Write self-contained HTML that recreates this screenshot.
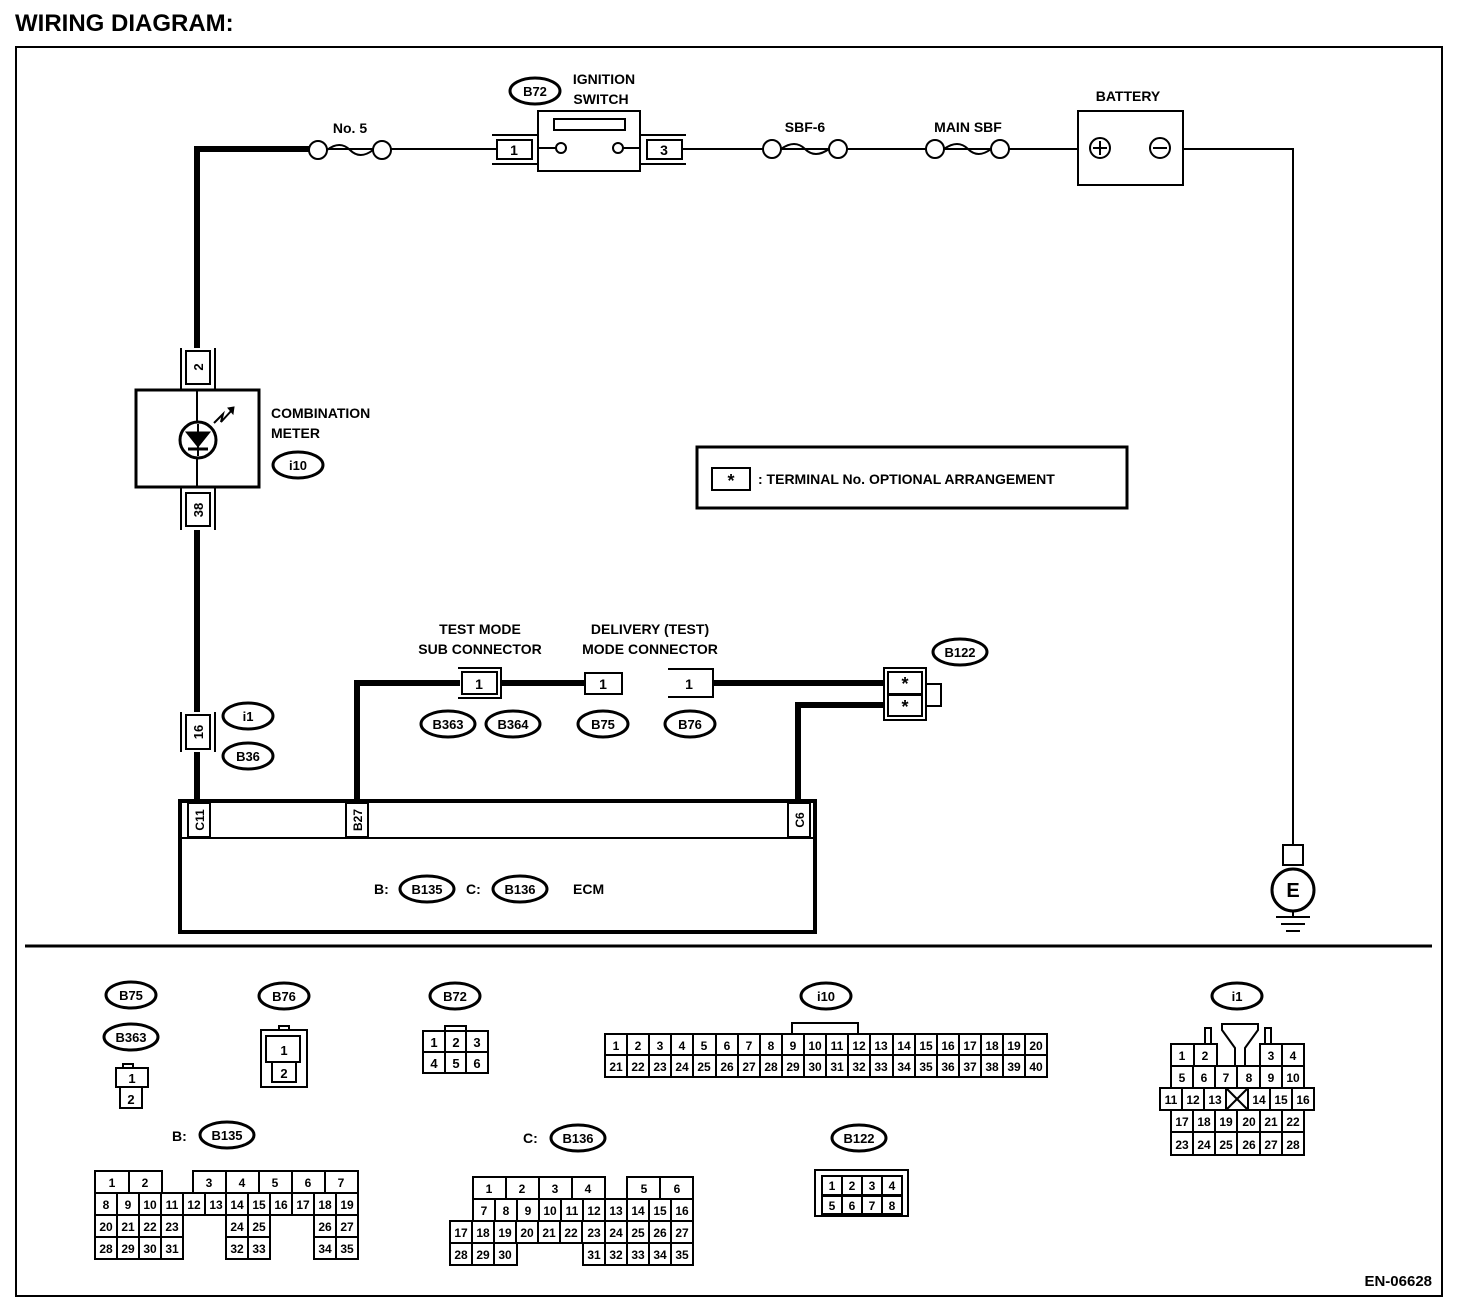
<!DOCTYPE html>
<html><head><meta charset="utf-8"><style>
body{margin:0;background:#fff}
svg{display:block}
text{font-family:"Liberation Sans",sans-serif;font-weight:bold;fill:#000}
</style></head><body>
<svg width="1472" height="1310" viewBox="0 0 1472 1310" xmlns="http://www.w3.org/2000/svg">
<text x="15" y="31" font-size="24">WIRING DIAGRAM:</text>
<rect x="16" y="47" width="1426" height="1249" fill="none" stroke="#000" stroke-width="2"/>
<line x1="25" y1="946" x2="1432" y2="946" stroke="#000" stroke-width="3"/>

<g fill="none" stroke="#000">
<polyline points="197,348 197,149 310,149" stroke-width="6"/>
<line x1="300" y1="149" x2="497" y2="149" stroke-width="2"/>
<line x1="680" y1="149" x2="1078" y2="149" stroke-width="2"/>
<polyline points="1183,149 1293,149 1293,845" stroke-width="2"/>
<circle cx="318" cy="150" r="9" fill="#fff" stroke-width="2"/><circle cx="382" cy="150" r="9" fill="#fff" stroke-width="2"/>
<path d="M327 150 Q340 140 350 150 T373 150" stroke-width="2"/>
<circle cx="772" cy="149" r="9" fill="#fff" stroke-width="2"/><circle cx="838" cy="149" r="9" fill="#fff" stroke-width="2"/>
<path d="M781 149 Q795 139 805 149 T829 149" stroke-width="2"/>
<circle cx="935" cy="149" r="9" fill="#fff" stroke-width="2"/><circle cx="1000" cy="149" r="9" fill="#fff" stroke-width="2"/>
<path d="M944 149 Q958 139 968 149 T991 149" stroke-width="2"/>
<rect x="538" y="111" width="102" height="60" stroke-width="2" fill="#fff"/>
<rect x="554" y="119" width="71" height="11" stroke-width="2"/>
<circle cx="561" cy="148" r="5" stroke-width="2" fill="#fff"/><circle cx="618" cy="148" r="5" stroke-width="2" fill="#fff"/>
<line x1="538" y1="148" x2="556" y2="148" stroke-width="2"/><line x1="623" y1="148" x2="640" y2="148" stroke-width="2"/>
<rect x="497" y="140" width="35" height="19" stroke-width="2" fill="#fff"/>
<line x1="492" y1="135" x2="538" y2="135" stroke-width="2"/><line x1="492" y1="164" x2="538" y2="164" stroke-width="2"/>
<rect x="647" y="140" width="35" height="19" stroke-width="2" fill="#fff"/>
<line x1="640" y1="135" x2="686" y2="135" stroke-width="2"/><line x1="640" y1="164" x2="686" y2="164" stroke-width="2"/>
<rect x="1078" y="111" width="105" height="74" stroke-width="2" fill="#fff"/>
<circle cx="1100" cy="148" r="10" stroke-width="2"/><line x1="1093" y1="148" x2="1107" y2="148" stroke-width="2"/><line x1="1100" y1="141" x2="1100" y2="155" stroke-width="2"/>
<circle cx="1160" cy="148" r="10" stroke-width="2"/><line x1="1153" y1="148" x2="1167" y2="148" stroke-width="2"/>
<rect x="1283" y="845" width="20" height="20" stroke-width="2" fill="#fff"/>
<circle cx="1293" cy="890" r="21" stroke-width="3" fill="#fff"/>
<line x1="1293" y1="911" x2="1293" y2="917" stroke-width="2"/>
<line x1="1276" y1="917" x2="1310" y2="917" stroke-width="2"/><line x1="1281" y1="924" x2="1305" y2="924" stroke-width="2"/><line x1="1286" y1="931" x2="1300" y2="931" stroke-width="2"/>

<line x1="197" y1="530" x2="197" y2="712" stroke-width="6"/>
<line x1="197" y1="752" x2="197" y2="802" stroke-width="6"/>
<rect x="136" y="390" width="123" height="97" stroke-width="3" fill="#fff"/>
<line x1="197" y1="390" x2="197" y2="487" stroke-width="2"/>
<circle cx="198" cy="440" r="18" stroke-width="3" fill="#fff"/>
<path d="M186 432 L210 432 L198 447 Z" fill="#000" stroke-width="1"/>
<line x1="188" y1="449" x2="208" y2="449" stroke-width="3"/>
<line x1="198" y1="424" x2="198" y2="456" stroke-width="2"/>
<path d="M214 423 L223 414 L221 422 L232 410" stroke-width="2"/><path d="M228 408 L234 407 L233 414 Z" fill="#000" stroke-width="1"/>
<g stroke-width="2">
<rect x="186" y="351" width="24" height="33" fill="#fff"/><line x1="181" y1="348" x2="181" y2="390"/><line x1="215" y1="348" x2="215" y2="390"/>
<rect x="186" y="493" width="24" height="33" fill="#fff"/><line x1="181" y1="487" x2="181" y2="530"/><line x1="215" y1="487" x2="215" y2="530"/>
<rect x="186" y="715" width="24" height="34" fill="#fff"/><line x1="181" y1="712" x2="181" y2="752"/><line x1="215" y1="712" x2="215" y2="752"/>
</g>
<rect x="180" y="801" width="635" height="131" stroke-width="4" fill="#fff"/>
<line x1="180" y1="838" x2="815" y2="838" stroke-width="2"/>
<rect x="188" y="803" width="22" height="34" stroke-width="2"/>
<rect x="346" y="803" width="22" height="34" stroke-width="2"/>
<rect x="788" y="803" width="22" height="34" stroke-width="2"/>
<polyline points="357,802 357,683 460,683" stroke-width="6"/>
<line x1="500" y1="683" x2="585" y2="683" stroke-width="6"/>
<line x1="713" y1="683" x2="887" y2="683" stroke-width="6"/>
<polyline points="798,802 798,705 887,705" stroke-width="6"/>
<rect x="462" y="672" width="35" height="22" stroke-width="2" fill="#fff"/>
<polyline points="458,668 501,668 501,698 458,698" stroke-width="2"/>
<rect x="585" y="673" width="37" height="21" stroke-width="2" fill="#fff"/>
<polyline points="668,669 713,669 713,697 668,697" stroke-width="2"/>
<rect x="884" y="668" width="42" height="52" stroke-width="2" fill="#fff"/>
<rect x="888" y="672" width="34" height="22" stroke-width="2"/>
<rect x="888" y="695" width="34" height="21" stroke-width="2"/>
<rect x="926" y="684" width="15" height="22" stroke-width="2"/>
<rect x="697" y="447" width="430" height="61" stroke-width="3"/>
<rect x="712" y="468" width="38" height="22" stroke-width="2"/>

<g stroke-width="3" fill="#fff">
<ellipse cx="535" cy="91" rx="25" ry="13"/>
<ellipse cx="298" cy="465" rx="25" ry="13"/>
<ellipse cx="248" cy="716" rx="25" ry="13"/>
<ellipse cx="248" cy="756" rx="25" ry="13"/>
<ellipse cx="448" cy="724" rx="27" ry="13"/>
<ellipse cx="513" cy="724" rx="27" ry="13"/>
<ellipse cx="603" cy="724" rx="25" ry="13"/>
<ellipse cx="690" cy="724" rx="25" ry="13"/>
<ellipse cx="960" cy="652" rx="27" ry="13"/>
<ellipse cx="427" cy="889" rx="27" ry="13"/>
<ellipse cx="520" cy="889" rx="27" ry="13"/>
<ellipse cx="131" cy="995" rx="25" ry="13"/>
<ellipse cx="131" cy="1037" rx="27" ry="13"/>
<ellipse cx="284" cy="996" rx="25" ry="13"/>
<ellipse cx="455" cy="996" rx="25" ry="13"/>
<ellipse cx="826" cy="996" rx="25" ry="13"/>
<ellipse cx="1237" cy="996" rx="25" ry="13"/>
<ellipse cx="227" cy="1135" rx="27" ry="13"/>
<ellipse cx="578" cy="1138" rx="27" ry="13"/>
<ellipse cx="859" cy="1138" rx="27" ry="13"/>
</g>

<g stroke-width="2" fill="#fff">
<rect x="123" y="1064" width="10" height="5"/>
<rect x="116" y="1068" width="32" height="19"/>
<rect x="120" y="1087" width="22" height="21"/>
<rect x="279" y="1026" width="10" height="5"/>
<rect x="261" y="1030" width="46" height="57"/>
<rect x="266" y="1036" width="34" height="26"/>
<rect x="272" y="1062" width="24" height="20"/>
<rect x="445" y="1026" width="21" height="6"/>
<rect x="423" y="1031" width="65" height="42"/>
<line x1="445" y1="1031" x2="445" y2="1073"/><line x1="466" y1="1031" x2="466" y2="1073"/><line x1="423" y1="1052" x2="488" y2="1052"/>
<rect x="792" y="1023" width="66" height="11"/>
<rect x="605" y="1034" width="442" height="43"/>
<line x1="605" y1="1055" x2="1047" y2="1055"/>
<rect x="1205" y="1028" width="6" height="17"/><rect x="1265" y="1028" width="6" height="17"/>
<path d="M1222 1024 L1258 1024 L1258 1030 L1245 1048 L1245 1066 L1235 1066 L1235 1048 L1222 1030 Z"/>
<rect x="1171" y="1044" width="46" height="22"/><line x1="1194" y1="1044" x2="1194" y2="1066"/>
<rect x="1260" y="1044" width="44" height="22"/><line x1="1282" y1="1044" x2="1282" y2="1066"/>
<rect x="1171" y="1066" width="133" height="22"/>
<rect x="1160" y="1088" width="154" height="22"/>
<rect x="1171" y="1110" width="133" height="22"/>
<rect x="1171" y="1132" width="133" height="23"/>
<line x1="1226" y1="1088" x2="1248" y2="1110"/><line x1="1248" y1="1088" x2="1226" y2="1110"/>
<rect x="815" y="1170" width="93" height="46"/>
<rect x="822" y="1176" width="80" height="19"/>
<rect x="822" y="1196" width="80" height="18"/>
</g>
<g stroke="#000" stroke-width="2">
<path d="M627 1034v43M649 1034v43M671 1034v43M693 1034v43M716 1034v43M738 1034v43M760 1034v43M782 1034v43M804 1034v43M826 1034v43M848 1034v43M870 1034v43M893 1034v43M915 1034v43M937 1034v43M959 1034v43M981 1034v43M1003 1034v43M1025 1034v43"/>
<path d="M1193 1066v22M1215 1066v22M1237 1066v22M1260 1066v22M1282 1066v22M1182 1088v22M1204 1088v22M1226 1088v22M1248 1088v22M1270 1088v22M1292 1088v22M1193 1110v45M1215 1110v45M1237 1110v45M1260 1110v45M1282 1110v45M1171 1132h133"/>
<path d="M842 1176v38M862 1176v38M882 1176v38"/>
</g>
<g stroke-width="2" fill="#fff">
<rect x="95" y="1171" width="67" height="22"/><line x1="129" y1="1171" x2="129" y2="1193"/>
<rect x="193" y="1171" width="165" height="22"/>
<rect x="95" y="1193" width="263" height="22"/>
<rect x="95" y="1215" width="88" height="44"/>
<rect x="226" y="1215" width="44" height="44"/>
<rect x="314" y="1215" width="44" height="44"/>
</g>
<path stroke="#000" stroke-width="2" d="M226 1171v22M259 1171v22M292 1171v22M325 1171v22M117 1193v22M139 1193v22M161 1193v22M183 1193v22M205 1193v22M226 1193v22M248 1193v22M270 1193v22M292 1193v22M314 1193v22M336 1193v22M117 1215v44M139 1215v44M161 1215v44M95 1237h88M248 1215v44M226 1237h44M336 1215v44M314 1237h44"/>
<g stroke-width="2" fill="#fff">
<rect x="473" y="1177" width="132" height="22"/>
<rect x="627" y="1177" width="66" height="22"/>
<rect x="473" y="1199" width="220" height="22"/>
<rect x="450" y="1221" width="243" height="22"/>
<rect x="450" y="1243" width="67" height="22"/>
<rect x="583" y="1243" width="110" height="22"/>
</g>
<path stroke="#000" stroke-width="2" d="M506 1177v22M539 1177v22M572 1177v22M660 1177v22M495 1199v22M517 1199v22M539 1199v22M561 1199v22M583 1199v22M605 1199v22M627 1199v22M649 1199v22M671 1199v22M472 1221v44M494 1221v44M516 1221v22M538 1221v22M560 1221v22M582 1221v22M605 1221v44M627 1221v44M649 1221v44M671 1221v44"/>
</g>

<g font-size="14" text-anchor="middle">
<text x="350" y="133">No. 5</text>
<text x="805" y="132">SBF-6</text>
<text x="968" y="132">MAIN SBF</text>
<text x="1128" y="101">BATTERY</text>
<text x="604" y="84">IGNITION</text>
<text x="601" y="104">SWITCH</text>
<text x="514" y="155">1</text>
<text x="664" y="155">3</text>
<text x="480" y="634">TEST MODE</text>
<text x="480" y="654">SUB CONNECTOR</text>
<text x="650" y="634">DELIVERY (TEST)</text>
<text x="650" y="654">MODE CONNECTOR</text>
<text x="479" y="689">1</text>
<text x="603" y="689">1</text>
<text x="689" y="689">1</text>
<text x="905" y="690" font-size="18">*</text>
<text x="905" y="713" font-size="18">*</text>
<text x="731" y="487" font-size="18">*</text>
<text x="1293" y="897" font-size="20">E</text>
</g>
<g font-size="14">
<text x="271" y="418">COMBINATION</text>
<text x="271" y="438">METER</text>
<text x="758" y="484">: TERMINAL No. OPTIONAL ARRANGEMENT</text>
<text x="374" y="894">B:</text>
<text x="466" y="894">C:</text>
<text x="573" y="894">ECM</text>
<text x="172" y="1141">B:</text>
<text x="523" y="1143">C:</text>
<text x="1432" y="1286" text-anchor="end" font-weight="normal" font-size="15">EN-06628</text>
</g>
<g font-size="13" text-anchor="middle">
<text transform="translate(203,367) rotate(-90)">2</text>
<text transform="translate(203,510) rotate(-90)">38</text>
<text transform="translate(203,732) rotate(-90)">16</text>
<text transform="translate(204,820) rotate(-90)" font-size="12">C11</text>
<text transform="translate(362,820) rotate(-90)" font-size="12">B27</text>
<text transform="translate(804,820) rotate(-90)" font-size="12">C6</text>
<text x="535" y="96">B72</text>
<text x="298" y="470">i10</text>
<text x="248" y="721">i1</text>
<text x="248" y="761">B36</text>
<text x="448" y="729">B363</text>
<text x="513" y="729">B364</text>
<text x="603" y="729">B75</text>
<text x="690" y="729">B76</text>
<text x="960" y="657">B122</text>
<text x="427" y="894">B135</text>
<text x="520" y="894">B136</text>
<text x="131" y="1000">B75</text>
<text x="131" y="1042">B363</text>
<text x="284" y="1001">B76</text>
<text x="455" y="1001">B72</text>
<text x="826" y="1001">i10</text>
<text x="1237" y="1001">i1</text>
<text x="227" y="1140">B135</text>
<text x="578" y="1143">B136</text>
<text x="859" y="1143">B122</text>
</g>
<g font-size="13" text-anchor="middle">
<text x="132" y="1083">1</text><text x="131" y="1104">2</text>
<text x="284" y="1055">1</text><text x="284" y="1078">2</text>
<text x="434" y="1047">1</text><text x="456" y="1047">2</text><text x="477" y="1047">3</text>
<text x="434" y="1068">4</text><text x="456" y="1068">5</text><text x="477" y="1068">6</text>
<g font-size="12">
<text x="616" y="1050">1</text><text x="638" y="1050">2</text><text x="660" y="1050">3</text><text x="682" y="1050">4</text><text x="704" y="1050">5</text><text x="727" y="1050">6</text><text x="749" y="1050">7</text><text x="771" y="1050">8</text><text x="793" y="1050">9</text><text x="815" y="1050">10</text><text x="837" y="1050">11</text><text x="859" y="1050">12</text><text x="881" y="1050">13</text><text x="904" y="1050">14</text><text x="926" y="1050">15</text><text x="948" y="1050">16</text><text x="970" y="1050">17</text><text x="992" y="1050">18</text><text x="1014" y="1050">19</text><text x="1036" y="1050">20</text>
<text x="616" y="1071">21</text><text x="638" y="1071">22</text><text x="660" y="1071">23</text><text x="682" y="1071">24</text><text x="704" y="1071">25</text><text x="727" y="1071">26</text><text x="749" y="1071">27</text><text x="771" y="1071">28</text><text x="793" y="1071">29</text><text x="815" y="1071">30</text><text x="837" y="1071">31</text><text x="859" y="1071">32</text><text x="881" y="1071">33</text><text x="904" y="1071">34</text><text x="926" y="1071">35</text><text x="948" y="1071">36</text><text x="970" y="1071">37</text><text x="992" y="1071">38</text><text x="1014" y="1071">39</text><text x="1036" y="1071">40</text>
<text x="1182" y="1060">1</text><text x="1205" y="1060">2</text><text x="1271" y="1060">3</text><text x="1293" y="1060">4</text>
<text x="1182" y="1082">5</text><text x="1204" y="1082">6</text><text x="1226" y="1082">7</text><text x="1249" y="1082">8</text><text x="1271" y="1082">9</text><text x="1293" y="1082">10</text>
<text x="1171" y="1104">11</text><text x="1193" y="1104">12</text><text x="1215" y="1104">13</text><text x="1259" y="1104">14</text><text x="1281" y="1104">15</text><text x="1303" y="1104">16</text>
<text x="1182" y="1126">17</text><text x="1204" y="1126">18</text><text x="1226" y="1126">19</text><text x="1249" y="1126">20</text><text x="1271" y="1126">21</text><text x="1293" y="1126">22</text>
<text x="1182" y="1149">23</text><text x="1204" y="1149">24</text><text x="1226" y="1149">25</text><text x="1249" y="1149">26</text><text x="1271" y="1149">27</text><text x="1293" y="1149">28</text>
<text x="112" y="1187">1</text><text x="145" y="1187">2</text><text x="209" y="1187">3</text><text x="242" y="1187">4</text><text x="275" y="1187">5</text><text x="308" y="1187">6</text><text x="341" y="1187">7</text>
<text x="106" y="1209">8</text><text x="128" y="1209">9</text><text x="150" y="1209">10</text><text x="172" y="1209">11</text><text x="194" y="1209">12</text><text x="216" y="1209">13</text><text x="237" y="1209">14</text><text x="259" y="1209">15</text><text x="281" y="1209">16</text><text x="303" y="1209">17</text><text x="325" y="1209">18</text><text x="347" y="1209">19</text>
<text x="106" y="1231">20</text><text x="128" y="1231">21</text><text x="150" y="1231">22</text><text x="172" y="1231">23</text><text x="237" y="1231">24</text><text x="259" y="1231">25</text><text x="325" y="1231">26</text><text x="347" y="1231">27</text>
<text x="106" y="1253">28</text><text x="128" y="1253">29</text><text x="150" y="1253">30</text><text x="172" y="1253">31</text><text x="237" y="1253">32</text><text x="259" y="1253">33</text><text x="325" y="1253">34</text><text x="347" y="1253">35</text>
<text x="489" y="1193">1</text><text x="522" y="1193">2</text><text x="555" y="1193">3</text><text x="588" y="1193">4</text><text x="644" y="1193">5</text><text x="677" y="1193">6</text>
<text x="484" y="1215">7</text><text x="506" y="1215">8</text><text x="528" y="1215">9</text><text x="550" y="1215">10</text><text x="572" y="1215">11</text><text x="594" y="1215">12</text><text x="616" y="1215">13</text><text x="638" y="1215">14</text><text x="660" y="1215">15</text><text x="682" y="1215">16</text>
<text x="461" y="1237">17</text><text x="483" y="1237">18</text><text x="505" y="1237">19</text><text x="527" y="1237">20</text><text x="549" y="1237">21</text><text x="571" y="1237">22</text><text x="594" y="1237">23</text><text x="616" y="1237">24</text><text x="638" y="1237">25</text><text x="660" y="1237">26</text><text x="682" y="1237">27</text>
<text x="461" y="1259">28</text><text x="483" y="1259">29</text><text x="505" y="1259">30</text><text x="594" y="1259">31</text><text x="616" y="1259">32</text><text x="638" y="1259">33</text><text x="660" y="1259">34</text><text x="682" y="1259">35</text>
<text x="832" y="1190">1</text><text x="852" y="1190">2</text><text x="872" y="1190">3</text><text x="892" y="1190">4</text>
<text x="832" y="1210">5</text><text x="852" y="1210">6</text><text x="872" y="1210">7</text><text x="892" y="1210">8</text>
</g>
</g>
</svg>
</body></html>
